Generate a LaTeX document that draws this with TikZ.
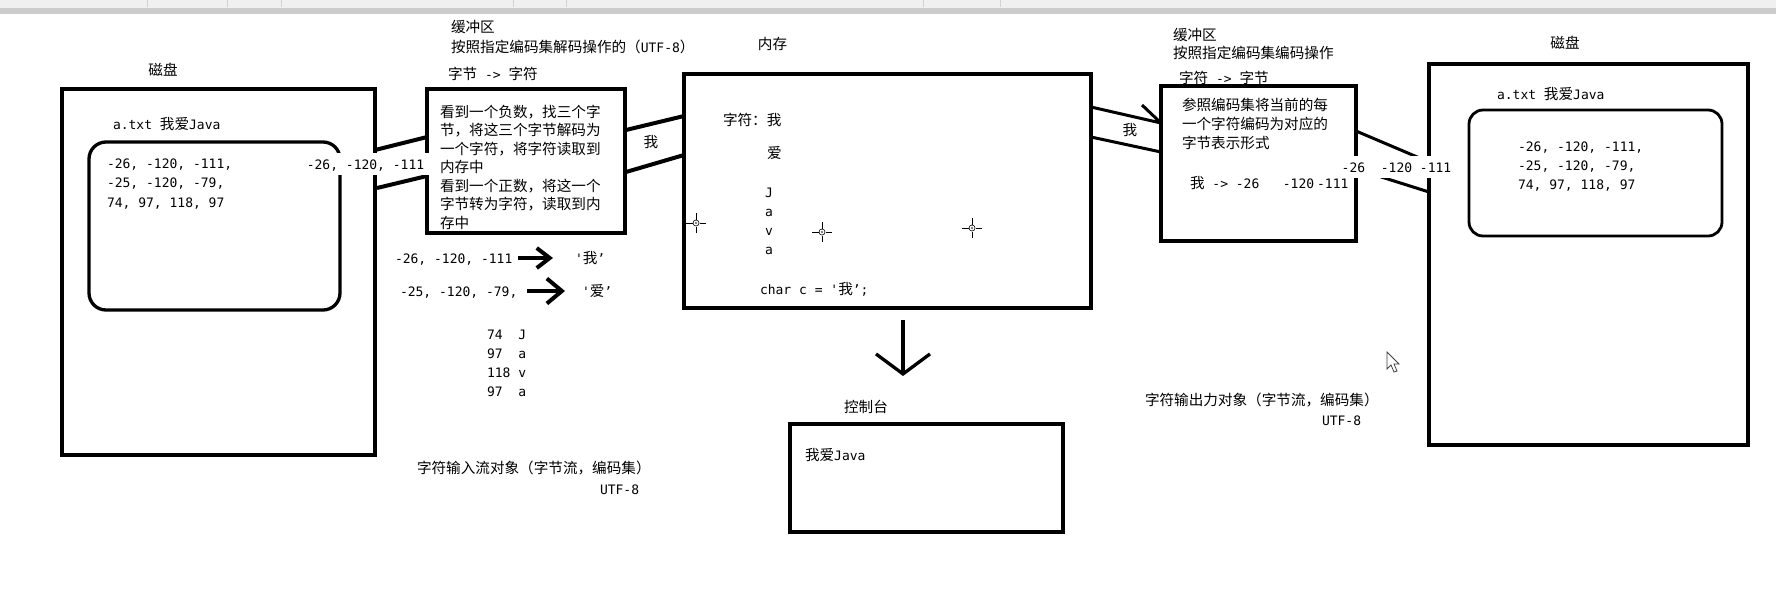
\documentclass[tikz,border=0pt]{standalone}
\usepackage{fontspec}
\newfontfamily\mono{DejaVu Sans Mono}
\newfontfamily\cjk{Noto Sans CJK SC}
\newcommand\zh[1]{{\cjk\fontsize{14.6}{18}\selectfont #1}}
\usetikzlibrary{arrows.meta}
\tikzset{
  txt/.style={anchor=west},
  ctr/.style={anchor=center},
  box/.style={draw, line width=4pt, anchor=center},
  rbox/.style={draw, rounded corners=17pt, line width=3.3pt, anchor=center},
  pipe/.style={line width=4pt},
  thinpipe/.style={line width=3pt},
  plabel/.style={fill=white, inner xsep=5pt, inner ysep=6pt, anchor=center},
  xhair/.pic={
    \draw[line width=0.7pt] (-10,0)--(-3.5,0) (3.5,0)--(10,0) (0,-10)--(0,-3.5) (0,3.5)--(0,10);
    \draw[line width=0.6pt] (0,0) circle (3pt);
    \fill (0,0) circle (0.8pt);
  },
  mcursor/.pic={
    \filldraw[fill=white, draw=black!75, line width=0.8pt]
      (0,0) -- (0,17) -- (4,13) -- (7,20) -- (10,19) -- (7,12) -- (12,12) -- cycle;
  }
}
\begin{document}
\begin{tikzpicture}[x=1pt,y=-1pt,
  every node/.style={inner sep=0pt, outer sep=0pt, font=\mono\fontsize{13}{19}\selectfont, text height=10pt, text depth=0pt}]
\useasboundingbox (0,0) rectangle (1776,614);
\fill[white] (0,0) rectangle (1776,614);
% window toolbar remnant
\fill[black!6] (0,0) rectangle (1776,8);
\fill[black!20] (0,8) rectangle (1776,14);
\foreach \sx in {147,227,281,513,566,923,1000} \draw[black!18, line width=0.8pt] (\sx,0) -- (\sx,7);

% boxes
\node[box, minimum width=313pt, minimum height=366pt] (diskL) at (218.5,272) {};
\node[rbox, minimum width=251pt, minimum height=168pt] (fileL) at (214.5,226) {};
\node[box, minimum width=198pt, minimum height=144pt] (bufL) at (526,161) {};
\node[box, minimum width=407pt, minimum height=234pt] (mem) at (887.5,191) {};
\node[box, line width=3.3pt, minimum width=195pt, minimum height=155pt] (bufR) at (1258.5,163.5) {};
\node[box, line width=4.5pt, minimum width=319pt, minimum height=381pt] (diskR) at (1588.5,254.5) {};
\node[rbox, line width=2.8pt, rounded corners=14pt, minimum width=253pt, minimum height=126pt] (fileR) at (1595.5,173) {};
\node[box, line width=3.3pt, minimum width=273pt, minimum height=108pt] (con) at (926.5,478) {};

% left disk
\node[ctr] (tDiskL) at (163,70) {\zh{磁盘}};
\node[txt] (tFileL) at (113,124) {a.txt \zh{我爱}Java};
\node[txt] (nL1) at (107,163) {-26, -120, -111,};
\node[txt] (nL2) at (107,182.5) {-25, -120, -79,};
\node[txt] (nL3) at (107,202) {74, 97, 118, 97};

% decode buffer
\node[txt] (hBufL1) at (451,27) {\zh{缓冲区}};
\node[txt] (hBufL2) at (451,47) {\zh{按照指定编码集解码操作的（}UTF-8\zh{）}};
\node[txt] (hBufL3) at (448,74) {\zh{字节} -> \zh{字符}};
\node[txt] (d1) at (440,112) {\zh{看到一个负数，找三个字}};
\node[txt] (d2) at (440,130.5) {\zh{节，将这三个字节解码为}};
\node[txt] (d3) at (440,149) {\zh{一个字符，将字符读取到}};
\node[txt] (d4) at (440,167.5) {\zh{内存中}};
\node[txt] (d5) at (440,186) {\zh{看到一个正数，将这一个}};
\node[txt] (d6) at (440,204.5) {\zh{字节转为字符，读取到内}};
\node[txt] (d7) at (440,223) {\zh{存中}};

% decode examples
\node[txt] (c1) at (395,258) {-26, -120, -111};
\coordinate (c1s) at (518,258); \coordinate (c1e) at (553,258);
\draw[line width=4pt, -{Straight Barb[length=13pt,width=20pt]}] (c1s) -- (c1e);
\node[txt] (q1) at (575,258) {'\zh{我}’};
\node[txt] (c2) at (400,291) {-25, -120, -79,};
\coordinate (c2s) at (527,291); \coordinate (c2e) at (565,291);
\draw[line width=4pt, -{Straight Barb[length=15pt,width=25pt]}] (c2s) -- (c2e);
\node[txt] (q2) at (582,291) {'\zh{爱}’};
\node[txt] (t1) at (487,334) {74\ \ J};
\node[txt] (t2) at (487,353) {97\ \ a};
\node[txt] (t3) at (487,372) {118 v};
\node[txt] (t4) at (487,391) {97\ \ a};
\node[txt] (inStream) at (417,468) {\zh{字符输入流对象（字节流，编码集）}};
\node[txt] (u1) at (600,489) {UTF-8};

% memory
\node[ctr] (tMem) at (772.5,44) {\zh{内存}};
\node[txt] (m1) at (723,120) {\zh{字符：我}};
\node[txt] (m2) at (767,153) {\zh{爱}};
\node[txt] (m3) at (765,192) {J};
\node[txt] (m4) at (765,211) {a};
\node[txt] (m5) at (765,230) {v};
\node[txt] (m6) at (765,249) {a};
\node[txt] (m7) at (760,289) {char c = '\zh{我}’;};
\pic at (696,223) {xhair};
\pic at (822,232) {xhair};
\pic at (972,228) {xhair};

% down arrow and console
\coordinate (dA) at (903,320); \coordinate (dB) at (903,376);
\draw[line width=3.3pt, -{Straight Barb[length=20pt,width=54pt]}] (dA) -- (dB);
\node[ctr] (tCon) at (866,407) {\zh{控制台}};
\node[txt] (conTxt) at (805,455) {\zh{我爱}Java};

% encode buffer
\node[txt] (hBufR1) at (1173,35) {\zh{缓冲区}};
\node[txt] (hBufR2) at (1173,53) {\zh{按照指定编码集编码操作}};
\node[txt] (hBufR3) at (1179,78) {\zh{字符} -> \zh{字节}};
\node[txt] (e1) at (1182,105) {\zh{参照编码集将当前的每}};
\node[txt] (e2) at (1182,124) {\zh{一个字符编码为对应的}};
\node[txt] (e3) at (1182,143) {\zh{字节表示形式}};
\node[txt] (e4) at (1190,183) {\zh{我} -> -26\ \ \ -120\hspace{3pt}-111};
\node[txt] (outStream) at (1145,400) {\zh{字符输出力对象（字节流，编码集）}};
\node[txt] (u2) at (1322,420) {UTF-8};

% right disk
\node[ctr] (tDiskR) at (1565,43) {\zh{磁盘}};
\node[txt] (tFileR) at (1497,94) {a.txt \zh{我爱}Java};
\node[txt] (nR1) at (1518,146) {-26, -120, -111,};
\node[txt] (nR2) at (1518,165) {-25, -120, -79,};
\node[txt] (nR3) at (1518,184) {74, 97, 118, 97};
\pic at (1387,352) {mcursor};

% pipes
\coordinate (a1) at (375,150); \coordinate (a2) at (427,137);
\coordinate (a3) at (377,188); \coordinate (a4) at (427,176);
\draw[pipe] (a1) -- (a2) (a3) -- (a4);
\coordinate (b1) at (626,130); \coordinate (b2) at (684,116);
\coordinate (b3) at (626,172); \coordinate (b4) at (684,155);
\draw[pipe] (b1) -- (b2) (b3) -- (b4);
\coordinate (g1) at (1091,107); \coordinate (g2) at (1161,123);
\coordinate (g3) at (1091,137); \coordinate (g4) at (1161,152);
\coordinate (gb) at (1142,105);
\draw[thinpipe] (g1) -- (g2) (g3) -- (g4) (gb) -- (g2);
\coordinate (h1) at (1356,131); \coordinate (h2) at (1429,162);
\coordinate (h3) at (1356,169); \coordinate (h4) at (1429,192);
\draw[thinpipe] (h1) -- (h2) (h3) -- (h4);

% pipe labels
\node[plabel] (lblL) at (365.5,164) {-26, -120, -111};
\node[plabel, inner xsep=2pt] (lblR) at (1396.5,167) {-26\ \ -120 -111};
\node[ctr] (w1) at (651,142) {\zh{我}};
\node[ctr] (w2) at (1130,130) {\zh{我}};
\end{tikzpicture}
\end{document}
